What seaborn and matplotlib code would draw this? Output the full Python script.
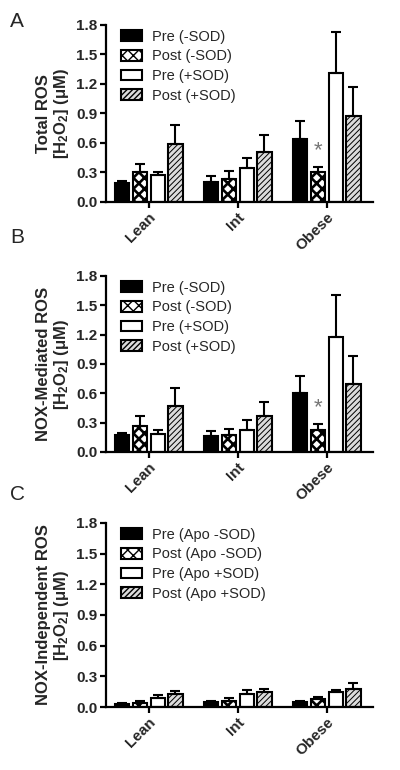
import numpy as np
import pandas as pd
import matplotlib
matplotlib.use("Agg")
import matplotlib.pyplot as plt
from matplotlib.container import BarContainer
import seaborn as sns

groups = ["Lean", "Int", "Obese"]
series_ab = ["Pre (-SOD)", "Post (-SOD)", "Pre (+SOD)", "Post (+SOD)"]
series_c = ["Pre (Apo -SOD)", "Post (Apo -SOD)", "Pre (Apo +SOD)", "Post (Apo +SOD)"]

# Panel A: Total ROS (mean, top of error bar) per series, groups Lean/Int/Obese
a_pre_m = [0.195, 0.20, 0.64]
a_post_m = [0.305, 0.23, 0.30]
a_pre_s = [0.275, 0.35, 1.31]
a_post_s = [0.59, 0.505, 0.877]
a_pre_m_err = [0.21, 0.26, 0.82]
a_post_m_err = [0.39, 0.31, 0.355]
a_pre_s_err = [0.30, 0.45, 1.73]
a_post_s_err = [0.78, 0.68, 1.17]

# Panel B: NOX-mediated ROS
b_pre_m = [0.177, 0.164, 0.60]
b_post_m = [0.27, 0.174, 0.229]
b_pre_s = [0.18, 0.222, 1.177]
b_post_s = [0.467, 0.365, 0.696]
b_pre_m_err = [0.19, 0.215, 0.78]
b_post_m_err = [0.365, 0.232, 0.29]
b_pre_s_err = [0.22, 0.328, 1.61]
b_post_s_err = [0.655, 0.515, 0.98]

# Panel C: NOX-independent ROS
c_pre_m = [0.03, 0.045, 0.05]
c_post_m = [0.042, 0.062, 0.075]
c_pre_s = [0.09, 0.127, 0.145]
c_post_s = [0.13, 0.145, 0.18]
c_pre_m_err = [0.035, 0.06, 0.06]
c_post_m_err = [0.055, 0.085, 0.10]
c_pre_s_err = [0.115, 0.17, 0.165]
c_post_s_err = [0.155, 0.18, 0.23]

yticks = [0.0, 0.3, 0.6, 0.9, 1.2, 1.5, 1.8]
ylabels = ["Total ROS\n[H$_2$O$_2$] (μM)",
           "NOX-Mediated ROS\n[H$_2$O$_2$] (μM)",
           "NOX-Independent ROS\n[H$_2$O$_2$] (μM)"]
panel_letters = ["A", "B", "C"]

sns.set_theme(style="ticks")
plt.rcParams["font.family"] = ["Liberation Sans", "DejaVu Sans"]
plt.rcParams["mathtext.fontset"] = "custom"
plt.rcParams["mathtext.rm"] = "Liberation Sans:bold"
plt.rcParams["mathtext.it"] = "Liberation Sans:bold"
plt.rcParams["mathtext.bf"] = "Liberation Sans:bold"
plt.rcParams["hatch.linewidth"] = 1.0

fig = plt.figure(figsize=(4.0, 7.7), dpi=100)
axes_pos = [
    [0.265, 0.7377, 0.6675, 0.2299],
    [0.265, 0.4130, 0.6675, 0.2286],
    [0.265, 0.0818, 0.6675, 0.2390],
]
letter_y = [0.972, 0.691, 0.358]

panels = [
    (series_ab, [a_pre_m, a_post_m, a_pre_s, a_post_s],
     [a_pre_m_err, a_post_m_err, a_pre_s_err, a_post_s_err], True),
    (series_ab, [b_pre_m, b_post_m, b_pre_s, b_post_s],
     [b_pre_m_err, b_post_m_err, b_pre_s_err, b_post_s_err], True),
    (series_c, [c_pre_m, c_post_m, c_pre_s, c_post_s],
     [c_pre_m_err, c_post_m_err, c_pre_s_err, c_post_s_err], False),
]

faces = ["black", "white", "white", "#dcdcdc"]
hatches = [None, "xxx", None, "//////"]

for i, (series, vals, errs, star) in enumerate(panels):
    ax = fig.add_axes(axes_pos[i])
    rows = []
    for s, v in zip(series, vals):
        for g, val in zip(groups, v):
            rows.append({"group": g, "series": s, "value": val})
    df = pd.DataFrame(rows)
    sns.barplot(data=df, x="group", y="value", hue="series", order=groups,
                hue_order=series, errorbar=None, width=0.8, gap=0.2,
                palette=faces, edgecolor="black", linewidth=1.5, ax=ax,
                legend=False)
    bars = [c for c in ax.containers if isinstance(c, BarContainer)]
    for k, cont in enumerate(bars):
        for j, p in enumerate(cont.patches):
            p.set_facecolor(faces[k])
            p.set_edgecolor("black")
            if hatches[k]:
                p.set_hatch(hatches[k])
                if hasattr(p, "set_hatch_linewidth"):
                    p.set_hatch_linewidth(1.9 if k == 1 else 0.7)
            xc = p.get_x() + p.get_width() / 2
            h = p.get_height()
            ax.errorbar([xc], [h], yerr=[[0], [errs[k][j] - h]], fmt="none",
                        ecolor="black", elinewidth=1.5, capsize=3.5,
                        capthick=1.5, zorder=1)
        if star and k == 1:
            p = cont.patches[2]
            ax.text(p.get_x() + p.get_width() / 2, errs[k][2] + 0.06, "*",
                    ha="center", va="bottom", color="#777777", fontsize=16)
    ax.set_ylim(0, 1.8)
    ax.set_xlim(-0.48, 2.52)
    ax.set_yticks(yticks)
    ax.set_yticklabels([f"{t:.1f}" for t in yticks], fontweight="bold",
                       fontsize=11)
    ax.set_xticks(range(len(groups)))
    ax.set_xticklabels(groups, rotation=45, ha="right",
                       rotation_mode="anchor", fontweight="bold", fontsize=11)
    ax.set_xlabel("")
    ax.set_ylabel(ylabels[i], fontweight="bold", fontsize=12, labelpad=4,
                  linespacing=1.05)
    sns.despine(ax=ax)
    for sp in ["left", "bottom"]:
        ax.spines[sp].set_linewidth(1.6)
        ax.spines[sp].set_color("black")
    ax.tick_params(axis="both", width=1.6, length=4, color="black",
                   direction="out", pad=2)
    leg = ax.legend(handles=bars, labels=series, loc="upper left",
                    bbox_to_anchor=(0.035, 1.005), frameon=False, fontsize=10.5,
                    handlelength=1.4, handleheight=0.75, labelspacing=0.38,
                    handletextpad=0.7, borderaxespad=0)
    fig.text(0.025, letter_y[i], panel_letters[i], fontsize=15,
             ha="left", va="center")

fig.savefig("out.png", dpi=100)
